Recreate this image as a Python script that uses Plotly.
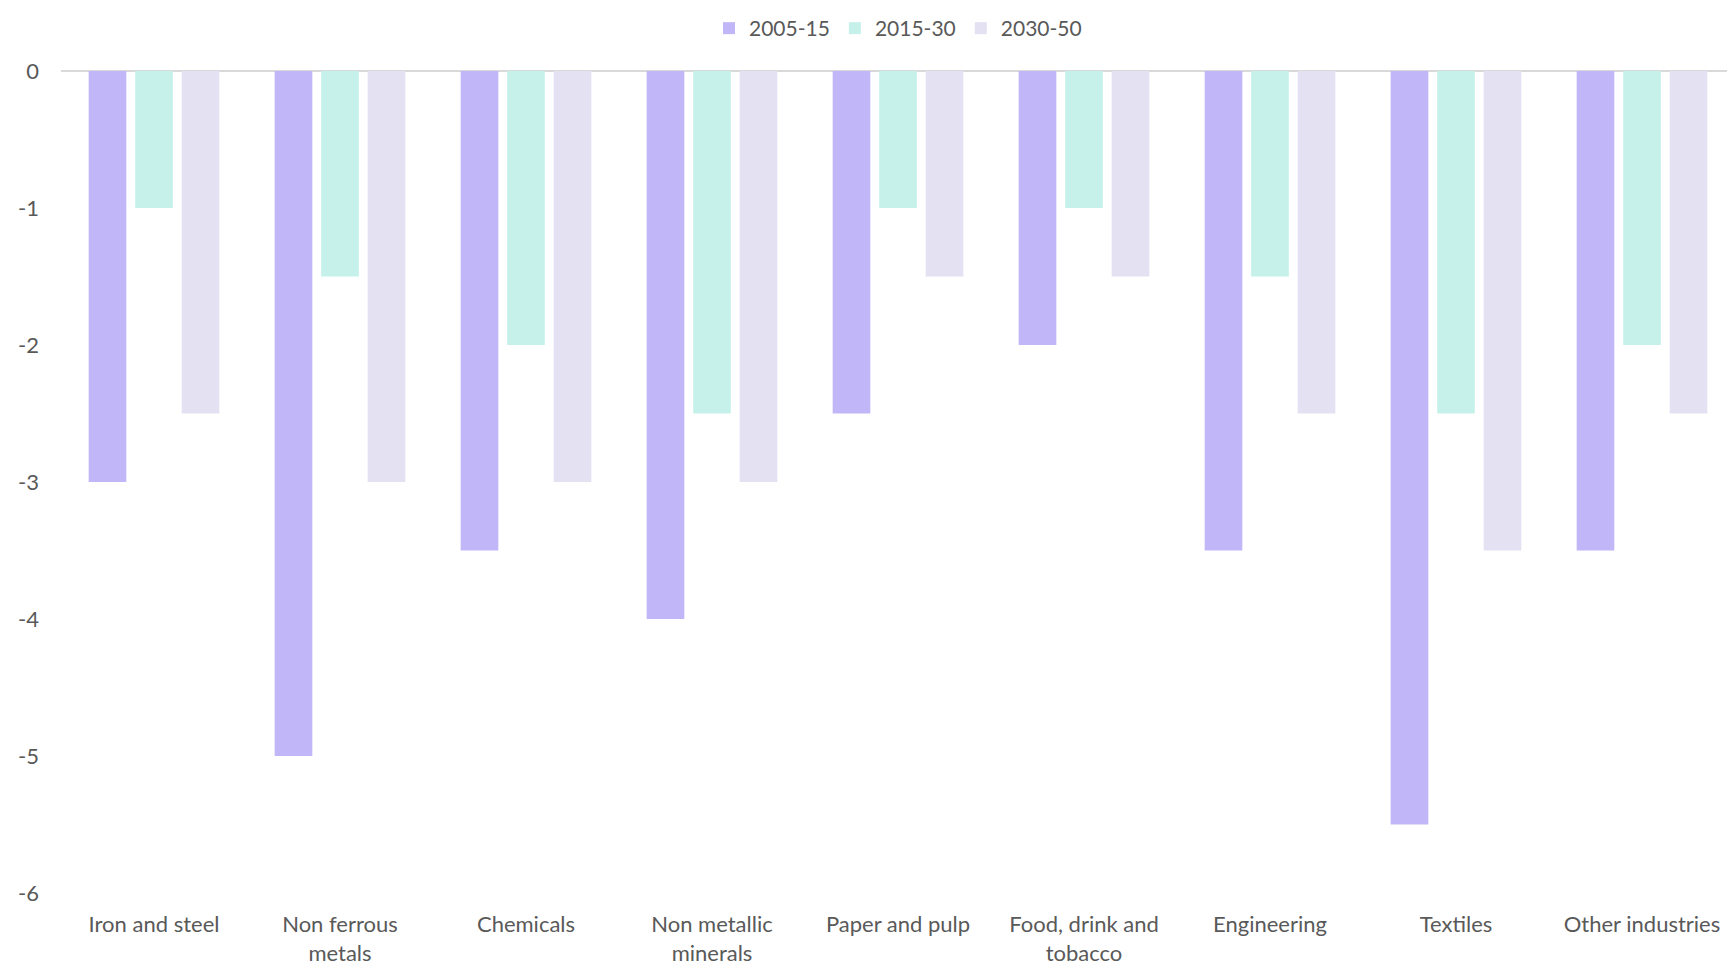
import plotly.graph_objects as go

categories = ["Iron and steel", "Non ferrous<br>metals", "Chemicals", "Non metallic<br>minerals",
              "Paper and pulp", "Food, drink and<br>tobacco", "Engineering", "Textiles", "Other industries"]
s2005_15 = [-3, -5, -3.5, -4, -2.5, -2, -3.5, -5.5, -3.5]
s2015_30 = [-1, -1.5, -2, -2.5, -1, -1, -1.5, -2.5, -2]
s2030_50 = [-2.5, -3, -3, -3, -1.5, -1.5, -2.5, -3.5, -2.5]
series_names = ["2005-15", "2015-30", "2030-50"]
colors = ["#C1B7F8", "#C6F1EA", "#E3E1F2"]
tick_vals = [0, -1, -2, -3, -4, -5, -6]
tick_text = ["0", "-1", "-2", "-3", "-4", "-5", "-6"]

fig = go.Figure()
for name, vals, c in zip(series_names, [s2005_15, s2015_30, s2030_50], colors):
    fig.add_trace(go.Bar(x=categories, y=vals, name=name, marker=dict(color=c, line=dict(width=0))))

font = dict(family="Lato, Liberation Sans, Arial, sans-serif", size=22, color="#595959")
legend_font = dict(family="Lato, Liberation Sans, Arial, sans-serif", size=21, color="#595959")
fig.update_layout(
    width=1727, height=961,
    margin=dict(l=53, r=0, t=63, b=76),
    paper_bgcolor="white", plot_bgcolor="white",
    font=font,
    barmode="group", bargap=0.25, bargroupgap=0.19,
    legend=dict(orientation="h", x=0.5, xanchor="center", y=1.0, yanchor="top",
                yref="container", font=legend_font, traceorder="normal", itemwidth=30,
                tracegroupgap=0),
    xaxis=dict(showgrid=False, showline=False, ticks="", ticklabelstandoff=16, tickfont=font,
               automargin=False),
    yaxis=dict(range=[-6, 0], tickvals=tick_vals, ticktext=tick_text, showgrid=False, zeroline=True,
               zerolinecolor="#D9D9D9", zerolinewidth=2, ticks="", ticklabelstandoff=21,
               tickfont=font, automargin=False),
)
fig.write_html("out.html")
